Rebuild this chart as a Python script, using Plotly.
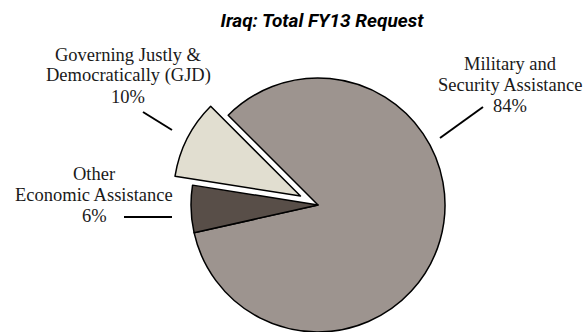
import math
import plotly.graph_objects as go

# Slices, in drawing order (clockwise from the upper-left start angle)
categories = ["Military and Security Assistance", "Other Economic Assistance",
              "Governing Justly & Democratically (GJD)"]
shares = [84, 6, 10]
colors = ["#9d948f", "#584e48", "#e1ded0"]
exploded = "Governing Justly & Democratically (GJD)"

# Text shown beside each slice
label_lines = {
    "Military and Security Assistance": ["Military and", "Security Assistance", "84%"],
    "Other Economic Assistance": ["Other", "Economic Assistance", "6%"],
    "Governing Justly & Democratically (GJD)": ["Governing Justly &", "Democratically (GJD)", "10%"],
}

W, H = 588, 332
CX, CY, R = 318, 205, 127          # pie centre and radius, px
START = -45                        # first slice starts at 10:30
PULL = 0.155                       # exploded slice offset, fraction of R
SERIF = "Liberation Serif"


def px2paper(x, y):
    return x / W, 1 - y / H


def domain(cx, cy):
    x0, y1 = px2paper(cx - R, cy - R)
    x1, y0 = px2paper(cx + R, cy + R)
    return dict(x=[max(0, x0), min(1, x1)], y=[max(0, y0), min(1, y1)])


# mid-angle (maths convention, degrees) of each slice
total = sum(shares)
acc = 0
mid = {}
for c, v in zip(categories, shares):
    a0 = START + 360 * acc / total
    a1 = START + 360 * (acc + v) / total
    mid[c] = 90 - (a0 + a1) / 2
    acc += v
ang = math.radians(mid[exploded])
ecx = CX + PULL * R * math.cos(ang)
ecy = CY - PULL * R * math.sin(ang)

is_exp = [c == exploded for c in categories]
common = dict(labels=categories, values=shares, sort=False, direction="clockwise",
              rotation=START, textinfo="none", hoverinfo="skip", showlegend=False)

fig = go.Figure()
# main body of the pie
fig.add_trace(go.Pie(
    **common, domain=domain(CX, CY),
    marker=dict(colors=["rgba(0,0,0,0)" if e else col for e, col in zip(is_exp, colors)],
                line=dict(color="black", width=[0 if e else 1.5 for e in is_exp])),
))
# the exploded slice, drawn at its offset centre
fig.add_trace(go.Pie(
    **common, domain=domain(ecx, ecy),
    marker=dict(colors=[col if e else "rgba(0,0,0,0)" for e, col in zip(is_exp, colors)],
                line=dict(color="black", width=[1.5 if e else 0 for e in is_exp])),
))

# label placement: text centre x, first-line y, leader line (x0, y0, x1, y1) in px
placement = {
    "Military and Security Assistance": (510, 64, (440, 138, 483, 107)),
    "Other Economic Assistance": (94, 174, (124, 217, 172, 217)),
    "Governing Justly & Democratically (GJD)": (128, 55, (143, 112, 172, 130)),
}
LINE_GAP = 21
for c in categories:
    tx, ty, (x0, y0, x1, y1) = placement[c]
    for i, line in enumerate(label_lines[c]):
        ax, ay = px2paper(tx, ty + i * LINE_GAP)
        fig.add_annotation(x=ax, y=ay, xref="paper", yref="paper", text=line,
                           showarrow=False, xanchor="center", yanchor="middle",
                           font=dict(family=SERIF, size=18.5, color="#1a1a1a"))
    p0 = px2paper(x0, y0)
    p1 = px2paper(x1, y1)
    fig.add_shape(type="line", xref="paper", yref="paper",
                  x0=p0[0], y0=p0[1], x1=p1[0], y1=p1[1],
                  line=dict(color="black", width=2))

fig.update_layout(
    width=W, height=H,
    margin=dict(l=0, r=0, t=0, b=0),
    paper_bgcolor="white", plot_bgcolor="white",
    title=dict(text="Iraq: Total FY13 Request", x=322 / W, xanchor="center",
               y=1 - 20 / H, yanchor="middle",
               font=dict(family="Roboto", size=19, color="black",
                         weight="bold", style="italic")),
)

fig.write_html("out.html")
